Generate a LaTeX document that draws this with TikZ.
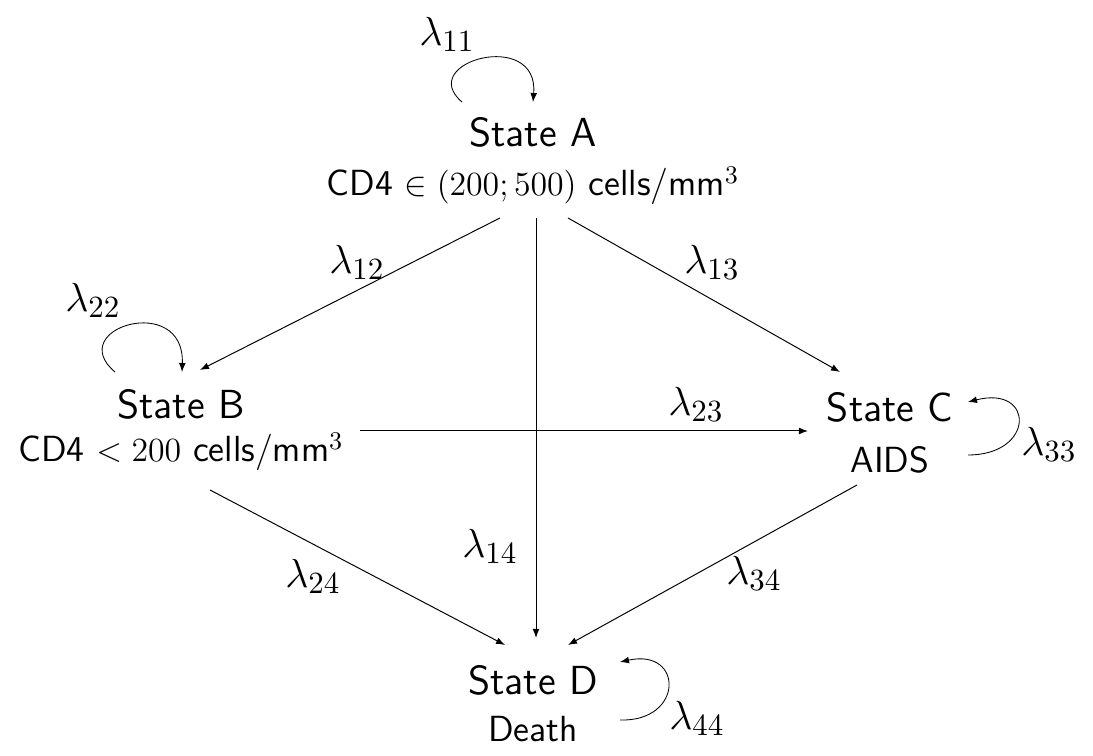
\documentclass[tikz,border=0pt]{standalone}
\usetikzlibrary{arrows.meta,calc}
\begin{document}
\begin{tikzpicture}[x=0.01247cm,y=-0.01247cm,
  title/.style={font=\sffamily\fontsize{14.4}{17}\selectfont,inner sep=0pt},
  desc/.style={font=\sffamily\fontsize{12.9}{15}\selectfont,inner sep=0pt},
  lab/.style={font=\fontsize{15}{18}\selectfont,inner sep=0pt},
  arr/.style={-{Latex[length=3.2pt,width=2.4pt]},line width=0.35pt},
  loop/.style={-{Latex[length=3.2pt,width=2.4pt]},line width=0.3pt}]
\useasboundingbox (0,0) rectangle (1093,756);
% states
\node[title] (A) at (533,132) {State A};
\node[desc] (Ad) at (533,186) {CD4 $\in(200;500)$ cells/mm$^3$};
\node[title] (B) at (181,404) {State B};
\node[desc] (Bd) at (181,452) {CD4 $<200$ cells/mm$^3$};
\node[title] (C) at (890,407) {State C};
\node[desc] (Cd) at (890,460) {AIDS};
\node[title] (D) at (533,680) {State D};
\node[desc] (Dd) at (533,729) {Death};
% transitions
\draw[arr] ($(Ad)+(-33,32)$) -- ($(B)+(19,-34)$);
\draw[arr] ($(Ad)+(35,32)$) -- ($(C)+(-50,-35)$);
\draw[arr] ($(Ad)+(3,32)$) -- ($(D)+(3,-42)$);
\draw[arr] ($(Bd)+(179,-21)$) -- ($(C)+(-82,24)$);
\draw[arr] ($(Bd)+(29,38)$) -- ($(D)+(-28,-35)$);
\draw[arr] ($(Cd)+(-33,25)$) -- ($(D)+(35,-35)$);
% self loops
\draw[loop] ($(A)+(-71,-30)$) .. controls ($(A)+(-118,-70)$) and ($(A)+(6,-104)$) .. ($(A)+(0,-30)$);
\draw[loop] ($(B)+(-66,-32)$) .. controls ($(B)+(-118,-76)$) and ($(B)+(4,-112)$) .. ($(B)+(1,-32)$);
\draw[loop] ($(C)+(78,48)$) .. controls ($(C)+(145,48)$) and ($(C)+(145,-22)$) .. ($(C)+(78,-5)$);
\draw[loop] ($(D)+(87,40)$) .. controls ($(D)+(151,42)$) and ($(D)+(151,-32)$) .. ($(D)+(87,-18)$);
% rate labels
\node[lab] (l11) at (447,34) {$\lambda_{11}$};
\node[lab] (l12) at (357,262) {$\lambda_{12}$};
\node[lab] (l13) at (712,262) {$\lambda_{13}$};
\node[lab] (l22) at (93,300) {$\lambda_{22}$};
\node[lab] (l23) at (696,404) {$\lambda_{23}$};
\node[lab] (l14) at (490,546) {$\lambda_{14}$};
\node[lab] (l24) at (313,576) {$\lambda_{24}$};
\node[lab] (l34) at (754,573) {$\lambda_{34}$};
\node[lab] (l33) at (1049,444) {$\lambda_{33}$};
\node[lab] (l44) at (697,718) {$\lambda_{44}$};
\end{tikzpicture}
\end{document}
